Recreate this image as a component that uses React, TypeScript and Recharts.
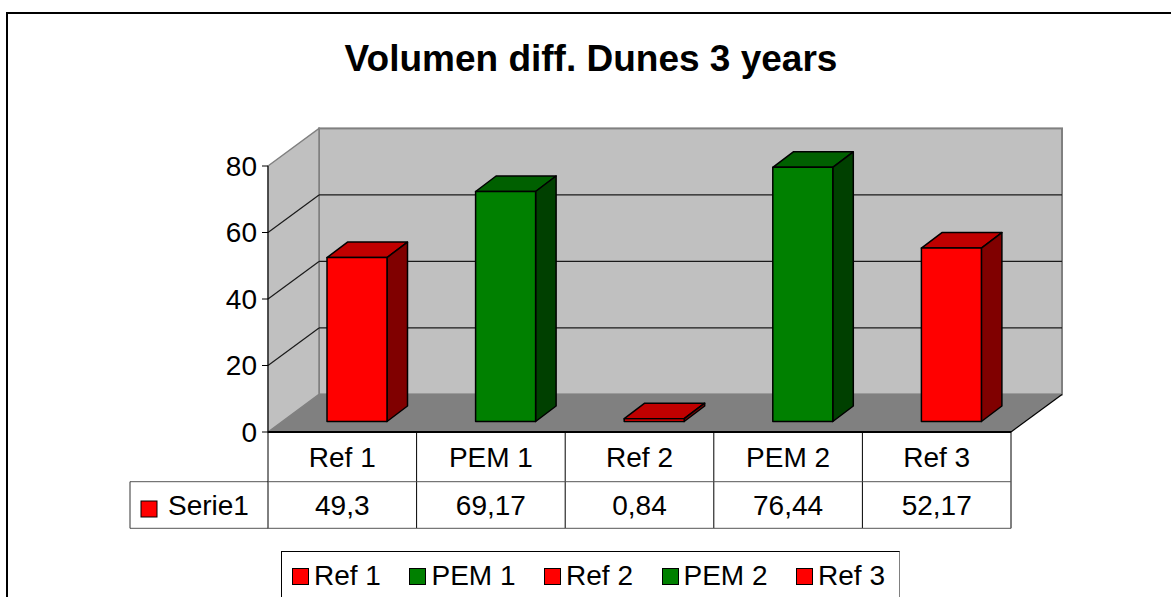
import { Bar, BarChart, CartesianGrid, Customized, Legend, XAxis, YAxis } from "recharts";

const TITLE = "Volumen diff. Dunes 3 years";
const SERIES_NAME = "Serie1";
const CATEGORIES = ["Ref 1", "PEM 1", "Ref 2", "PEM 2", "Ref 3"];
const VALUES = [49.3, 69.17, 0.84, 76.44, 52.17];
const Y_TICKS = [0, 20, 40, 60, 80];

// front / top / side faces of the 3D columns (Excel "vary colours by point")
const RED = { front: "#ff0000", top: "#c00000", side: "#800000" };
const GREEN = { front: "#008000", top: "#006000", side: "#004000" };
const BAR_COLORS = [RED, GREEN, RED, GREEN, RED];

const W = 1171;
const H = 597;
const LEFT = 268;
const RIGHT = 1011;
const TOP = 166;
const BOTTOM = 432;
const Y_AXIS_W = 60;
const X_AXIS_H = 100;
const DEPTH = { x: 51, y: -37.6 }; // front plane -> back wall
const BAR_SHIFT = { x: 15, y: -10.5 }; // columns sit a bit into the floor
const BAR_DEPTH = { x: 20.5, y: -15.5 };
const ROW1 = 481.7;
const ROW2 = 528.3;
const KEY_LEFT = 130;
const FONT = "'Liberation Sans', Arial, sans-serif";
const FS = 28;
const BAND = (RIGHT - LEFT) / CATEGORIES.length;

const data = CATEGORIES.map((name, i) => ({ name, value: VALUES[i] }));
const fmt = (v: number) => String(v).replace(".", ",");

function walls(p: any) {
  if (p.index !== 0) return <g key={`w-${p.index}`} />;
  const bx = LEFT + DEPTH.x;
  const br = RIGHT + DEPTH.x;
  const by = TOP + DEPTH.y;
  const bb = BOTTOM + DEPTH.y;
  return (
    <g key="walls">
      <rect x={bx} y={by} width={br - bx} height={bb - by} fill="#c0c0c0" stroke="#808080" strokeWidth={2} />
      <polygon points={`${LEFT},${TOP} ${bx},${by} ${bx},${bb} ${LEFT},${BOTTOM}`} fill="#c0c0c0" stroke="#808080" strokeWidth={1.5} />
      <polygon points={`${LEFT},${BOTTOM} ${RIGHT},${BOTTOM} ${br},${bb} ${bx},${bb}`} fill="#808080" />
      <line x1={RIGHT} y1={BOTTOM} x2={br} y2={bb} stroke="#000" strokeWidth={1.2} />
    </g>
  );
}

function gridLine(p: any) {
  const { x1, y1, x2 } = p;
  if (Math.abs(y1 - BOTTOM) < 1 || Math.abs(y1 - TOP) < 1) return <g key={`g-${p.index}`} />;
  return (
    <g key={`g-${p.index}`} stroke="#1a1a1a" strokeWidth={1.2}>
      <line x1={x1} y1={y1} x2={x1 + DEPTH.x} y2={y1 + DEPTH.y} />
      <line x1={x1 + DEPTH.x} y1={y1 + DEPTH.y} x2={x2 + DEPTH.x} y2={y1 + DEPTH.y} />
    </g>
  );
}

function Bar3D(props: any) {
  const { x, y, width, height } = props;
  const idx = props.index ?? CATEGORIES.indexOf(props.payload?.name);
  const c = BAR_COLORS[idx] ?? RED;
  const x0 = x + BAR_SHIFT.x;
  const y0 = y + BAR_SHIFT.y;
  const { x: dx, y: dy } = BAR_DEPTH;
  return (
    <g stroke="#000" strokeWidth={1.5} strokeLinejoin="round">
      <polygon
        points={`${x0},${y0} ${x0 + width},${y0} ${x0 + width + dx},${y0 + dy} ${x0 + dx},${y0 + dy}`}
        fill={c.top}
      />
      <polygon
        points={`${x0 + width},${y0} ${x0 + width + dx},${y0 + dy} ${x0 + width + dx},${y0 + height + dy} ${x0 + width},${y0 + height}`}
        fill={c.side}
      />
      <rect x={x0} y={y0} width={width} height={height} fill={c.front} />
    </g>
  );
}

function TableTick(props: any) {
  const { x, payload } = props;
  const i = payload.index ?? CATEGORIES.indexOf(payload.value);
  const l = x - BAND / 2;
  const r = x + BAND / 2;
  return (
    <g>
      <text x={x} y={(BOTTOM + ROW1) / 2} dy="0.355em" textAnchor="middle" fontFamily={FONT} fontSize={FS} fill="#000">
        {payload.value}
      </text>
      <text x={x} y={(ROW1 + ROW2) / 2} dy="0.355em" textAnchor="middle" fontFamily={FONT} fontSize={FS} fill="#000">
        {fmt(VALUES[i])}
      </text>
      <line x1={r} y1={BOTTOM} x2={r} y2={ROW2} stroke="#000" />
      <line x1={l} y1={ROW1} x2={r} y2={ROW1} stroke="#555" />
      <line x1={l} y1={ROW2} x2={r} y2={ROW2} stroke="#555" />
    </g>
  );
}

function Decor() {
  return (
    <g>
      <rect x={7} y={13} width={1400} height={800} fill="none" stroke="#000" strokeWidth={2} />
      <text x={591} y={71} textAnchor="middle" fontFamily={FONT} fontWeight="bold" fontSize={37} fill="#000">
        {TITLE}
      </text>
      <line x1={KEY_LEFT} y1={ROW1} x2={LEFT} y2={ROW1} stroke="#555" />
      <line x1={KEY_LEFT} y1={ROW2} x2={LEFT} y2={ROW2} stroke="#555" />
      <line x1={KEY_LEFT} y1={ROW1} x2={KEY_LEFT} y2={ROW2} stroke="#333" />
      <line x1={LEFT} y1={BOTTOM} x2={LEFT} y2={ROW2} stroke="#000" />
      <rect x={141} y={501} width={16} height={16} fill={RED.front} stroke="#000" />
      <text x={168} y={(ROW1 + ROW2) / 2} dy="0.355em" fontFamily={FONT} fontSize={FS} fill="#000">
        {SERIES_NAME}
      </text>
    </g>
  );
}

function LegendBox() {
  return (
    <div
      style={{
        boxSizing: "border-box",
        width: 619,
        height: 60,
        border: "1px solid #000",
        borderRight: "1px solid #808080",
        display: "flex",
        justifyContent: "space-between",
        alignItems: "flex-start",
        padding: "8px 14px 0 10px",
        fontFamily: FONT,
        fontSize: FS,
        lineHeight: "32px",
        color: "#000",
        background: "#fff",
      }}
    >
      {CATEGORIES.map((name, i) => (
        <span key={name} style={{ display: "flex", alignItems: "center", whiteSpace: "nowrap" }}>
          <span
            style={{
              display: "inline-block",
              width: 15,
              height: 15,
              border: "1px solid #000",
              background: BAR_COLORS[i].front,
              marginRight: 5,
            }}
          />
          {name}
        </span>
      ))}
    </div>
  );
}

export default function App() {
  return (
    <div style={{ position: "absolute", left: 0, top: 0, width: W, height: H, overflow: "hidden", background: "#fff" }}>
      <BarChart
        width={W}
        height={H}
        data={data}
        margin={{ top: TOP, right: W - RIGHT, bottom: H - BOTTOM - X_AXIS_H, left: LEFT - Y_AXIS_W }}
      >
        <CartesianGrid vertical={false} horizontal={walls} />
        <CartesianGrid vertical={false} horizontal={gridLine} />
        <YAxis
          width={Y_AXIS_W}
          domain={[0, 80]}
          ticks={Y_TICKS}
          interval={0}
          tick={{ fill: "#000", fontSize: FS, fontFamily: FONT }}
          tickSize={6}
          tickMargin={5}
          tickLine={{ stroke: "#000" }}
          axisLine={{ stroke: "#000" }}
        />
        <XAxis
          dataKey="name"
          height={X_AXIS_H}
          interval={0}
          tickSize={0}
          tickMargin={0}
          tickLine={false}
          axisLine={{ stroke: "#000", strokeWidth: 2 }}
          tick={TableTick}
        />
        <Bar dataKey="value" name={SERIES_NAME} barSize={60} shape={Bar3D} isAnimationActive={false} />
        <Customized component={Decor} />
        <Legend
          layout="horizontal"
          verticalAlign="middle"
          align="center"
          wrapperStyle={{ left: 281, top: 551, width: 619, height: 60 }}
          content={() => <LegendBox />}
        />
      </BarChart>
    </div>
  );
}
